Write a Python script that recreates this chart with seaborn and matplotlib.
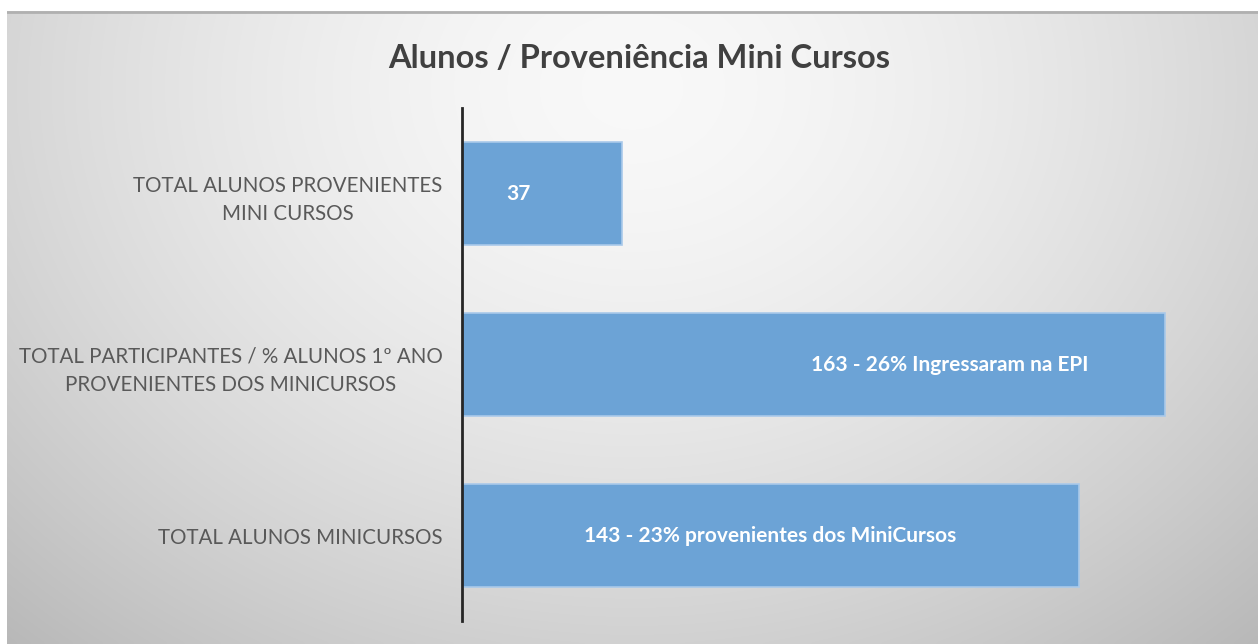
import matplotlib
matplotlib.use("Agg")
import matplotlib.pyplot as plt
import seaborn as sns
import numpy as np
import pandas as pd

# Dados do gráfico
categorias = [
    "TOTAL ALUNOS PROVENIENTES\nMINI CURSOS",
    "TOTAL PARTICIPANTES / % ALUNOS 1º ANO\nPROVENIENTES DOS MINICURSOS",
    "TOTAL ALUNOS MINICURSOS",
]
valores = [37, 163, 143]
rotulos = ["37", "163 - 26% Ingressaram na EPI", "143 - 23% provenientes dos MiniCursos"]
titulo = "Alunos / Proveniência Mini Cursos"

# posição horizontal dos rótulos (em unidades do eixo x)
rotulo_x = [13.0, 113.0, 71.5]

sns.set_theme(style="white")
plt.rcParams["font.family"] = ["Lato", "DejaVu Sans"]

W, H = 1258, 644
fig = plt.figure(figsize=(W / 100, H / 100), dpi=100)
fig.patch.set_facecolor("white")

# Fundo com gradiente radial
bg = fig.add_axes([7 / W, 0, 1 - 7 / W, (H - 11) / H], zorder=0)
xx, yy = np.meshgrid(np.linspace(0, 1, 400), np.linspace(0, 1, 200))
r = np.sqrt(((xx - 0.5) / 0.62) ** 2 + ((yy - 0.12) / 1.0) ** 2)
g = np.clip(0.975 - 0.19 * r ** 1.6, 0, 1)
img = np.dstack([g, g, g])
bg.imshow(img, aspect="auto", extent=[0, 1, 1, 0], interpolation="bicubic")
bg.set_xlim(0, 1)
bg.set_ylim(1, 0)
bg.axis("off")
bg.plot([0, 1], [0.998, 0.998], color="#b0b0b0", lw=2, transform=bg.transAxes)

df = pd.DataFrame({"categoria": categorias, "valor": valores})

ax = fig.add_axes([462 / W, 1 - 621 / H, 768 / W, 513 / H], zorder=1)
ax.patch.set_alpha(0)
sns.barplot(data=df, y="categoria", x="valor", orient="h", color="#6ca3d6",
            saturation=1, width=0.6, edgecolor="#a9c9ea", linewidth=1.2, ax=ax)

for i, (txt, xp) in enumerate(zip(rotulos, rotulo_x)):
    ax.text(xp, i, txt, ha="center", va="center", color="white",
            fontsize=15, fontweight="bold")

ax.set_xlim(0, 178)
ax.set_ylim(2.5, -0.5)
ax.set_xlabel("")
ax.set_ylabel("")
ax.set_xticks([])
for s in ["top", "right", "bottom"]:
    ax.spines[s].set_visible(False)
ax.spines["left"].set_color("#262626")
ax.spines["left"].set_linewidth(2)
ax.tick_params(axis="y", length=0, pad=14, labelsize=14.8, labelcolor="#595959")
for lbl in ax.get_yticklabels():
    lbl.set_horizontalalignment("right")
    lbl.set_multialignment("center")
    lbl.set_linespacing(1.5)

fig.text(0.508, 1 - 58 / H, titulo, ha="center", va="center",
         fontsize=23.5, fontweight="bold", color="#404040")

fig.savefig("out.png", dpi=100)
